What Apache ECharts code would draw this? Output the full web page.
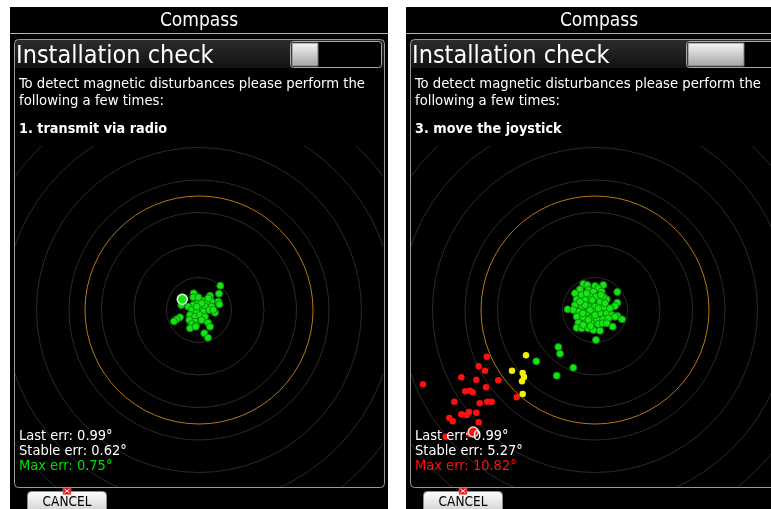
<!DOCTYPE html>
<html><head><meta charset="utf-8">
<script src="https://cdn.jsdelivr.net/npm/echarts@6/dist/echarts.min.js"></script>
<style>html,body{margin:0;padding:0;background:#fff}#c{width:771px;height:509px}</style>
</head><body><div id="c"></div>
<script>
// reference rings (pixel-equivalent deviation units) and limit circle
const ringRadii = [32.5, 65, 97.5, 130, 162.5, 195, 227.5, 260];
const limitRadius = [114];

// panel 1 : "transmit via radio"
const leftGreen = [
  [21.3,24.3],[20,16.3],[19.3,8.3],[11,14.3],[-5.3,16.7],[-5.7,12.7],[4.3,9.3],[12.3,8.7],
  [-0.7,7.7],[7.7,7.7],[-5.7,5],[-10.7,3.3],[1,3.3],[6,3.3],[12.7,3.3],[20.3,5.7],
  [-7.3,0],[-2.3,-1.7],[4.3,-1.7],[10.3,0],[16,-2.7],[-9,-5],[-4,-6.7],[1,-5],[6,-6.7],
  [-9.7,-10],[-4,-11.7],[2.7,-10],[9,-12.7],[-7.3,-14],[-3,-15.3],[-9,-18.3],[-3.3,-16.7],
  [11,-16.7],[5.3,-23.3],[9,-27.7],[-19,-7.3],[-22.3,-9.3],[-25,-11.3],[-17.7,5],
  [-0.7,12.7],[2.7,6.7],[9.3,11.7],[14.3,0],[-2.3,3.3]
];
const leftLast = [[-16.7,10.7]];

// panel 2 : "move the joystick"
const rightGreen = [
  [-11.7,26],[-7.7,25],[0,24],[8.3,25],[3.3,21.7],[-15,20.7],[-6.7,20],[-1.7,18.3],[6.7,18.3],
  [22.3,18],[-20,16.7],[-13.3,15],[-5.7,14],[1,13.3],[11.7,10.7],[-18.3,10.7],[-10,10],
  [-3.3,8.3],[5,8.3],[22.3,7.3],[20,4],[-20,5],[-13.3,3.3],[-6.7,3.3],[0,3.3],[9,2.7],
  [-27.3,0.7],[-21.7,0],[-15.7,-1.7],[-8.3,-2.7],[-1.7,-1.7],[5,-3.3],[11.7,-3.3],[16.7,-5],
  [22.3,-6],[27,-9.3],[-18.3,-6.7],[-11.7,-7.3],[-5,-8.3],[1.7,-9.3],[8.3,-9.3],[13.3,-8.3],
  [-16.7,-12.7],[-10,-13.3],[-3.3,-13.3],[3.3,-14],[7.7,-13.3],[-18.3,-17.7],[-13.3,-18.3],
  [-6.7,-18.3],[-1.7,-20],[5,-20.7],[17.7,-16.7],[1,-30],
  [-10,5],[-5,0],[3.3,1.7],[-8.3,16.7],[8.3,13.3],[-15,8.3],[0,-5],[-6.7,-10],[11.7,-13.3],
  [-12.3,-3.3],[15,1.7],[6,15],[-2.7,10],[10,6.7],[20,-6.7],[-11.7,-15],[-4.3,-16],
  [-36.7,-37],[-35,-43.7],[-58.7,-51.3],[-21.7,-57.7],[-38.3,-65.7]
];
const rightYellow = [[-69,-45.3],[-83,-60.7],[-72.3,-63],[-71,-67],[-73,-71.3],[-72.3,-84]];
const rightRed = [
  [-108.3,-46.7],[-116.3,-56.3],[-110,-60.7],[-133.7,-67.3],[-118.7,-69.7],[-96.7,-70.3],
  [-109,-77.3],[-129.7,-81.3],[-125,-80.7],[-122.3,-82.3],[-172,-74.3],[-140.7,-91.7],
  [-115.3,-93.3],[-107.7,-91.7],[-103.3,-91.7],[-78.3,-87.3],[-118.7,-102.7],[-133.7,-104.3],
  [-128.3,-105],[-126,-102],[-145.7,-108],[-142.3,-111.3],[-116.3,-112.3],[-125.7,-124],
  [-149.3,-126.7]
];
const rightLast = [[-121.7,-122]];

// texts
const titleText = 'Compass';
const headerText = 'Installation check';
const introLines = ['To detect magnetic disturbances please perform the', 'following a few times:'];
const stepTexts = ['1. transmit via radio', '3. move the joystick'];
const lastErr = ['0.99', '0.99'];
const stableErr = ['0.62', '5.27'];
const maxErr = ['0.75', '10.82'];
const maxErrColor = ['#00e000', '#ff1010'];
const knobWidth = [26, 56];

const FONT = "'DejaVu Sans Condensed', 'DejaVu Sans', sans-serif";

function grad(c1, c2) {
  return {type:'linear', x:0, y:0, x2:0, y2:1, colorStops:[{offset:0,color:c1},{offset:1,color:c2}]};
}
function txt(x, y, text, size, color, weight, align) {
  return {type:'text', x:x, y:y, z:100, silent:true,
    style:{text:text, fill:color, fontSize:size, fontFamily:FONT, fontWeight:weight||'normal',
      align:align||'left', verticalAlign:'middle', textAlign:align||'left', textVerticalAlign:'middle'}};
}
function panel(i) {
  const ox = i === 0 ? 0 : 396;
  const els = [];
  els.push({type:'rect', z:-10, shape:{x:ox+10, y:7, width:i===0?378:400, height:510}, style:{fill:'#000'}});
  els.push({type:'rect', z:-9, shape:{x:ox+10, y:33, width:i===0?378:400, height:1}, style:{fill:'#b4b4b4'}});
  els.push({type:'rect', z:-9, shape:{x:ox+15, y:40, width:i===0?369:400, height:28}, style:{fill:grad('#2c2c2c','#121212')}});
  els.push({type:'rect', z:-8, shape:{x:ox+14.5, y:39.5, width:i===0?370:400, height:448, r:4}, style:{fill:null, stroke:'#9a9a9a', lineWidth:1}});
  // toggle
  els.push({type:'rect', z:-7, shape:{x:ox+290.5, y:41.5, width:91, height:26, r:3}, style:{fill:'#000', stroke:'#a8a8a8', lineWidth:1}});
  els.push({type:'rect', z:-6, shape:{x:ox+292, y:43, width:knobWidth[i], height:23}, style:{fill:grad('#f6f6f6','#a4a4a4'), stroke:'#777', lineWidth:1}});
  // texts
  els.push(txt((i===0?199:599), 21.5, titleText, 19, '#fff', 'normal', 'center'));
  els.push(txt(ox+16, 56, headerText, 25, '#fff'));
  els.push(txt(ox+19, 84, introLines[0], 14.7, '#fff'));
  els.push(txt(ox+19, 101, introLines[1], 14.7, '#fff'));
  els.push(txt(ox+19, 129, stepTexts[i], 14.3, '#fff', 'bold'));
  els.push(txt(ox+19, 436, 'Last err: ' + lastErr[i] + '°', 14.5, '#fff'));
  els.push(txt(ox+19, 451, 'Stable err: ' + stableErr[i] + '°', 14.5, '#fff'));
  els.push(txt(ox+19, 466, 'Max err: ' + maxErr[i] + '°', 14.5, maxErrColor[i]));
  // cancel button
  const bx = i === 0 ? 27 : 423;
  els.push({type:'rect', z:50, shape:{x:bx+0.5, y:491.5, width:79, height:24, r:[4,4,0,0]}, style:{fill:grad('#ffffff','#c8c8c8'), stroke:'#8a8a8a', lineWidth:1}});
  els.push(txt(bx+40, 502, 'CANCEL', 13.5, '#000', 'normal', 'center'));
  const ix = bx + 36;
  els.push({type:'rect', z:60, shape:{x:ix, y:487.5, width:8, height:7}, style:{fill:'#e01818', stroke:'#ff8080', lineWidth:0.5}});
  els.push({type:'line', z:61, shape:{x1:ix+1.5, y1:489, x2:ix+6.5, y2:493}, style:{stroke:'#fff', lineWidth:1}});
  els.push({type:'line', z:61, shape:{x1:ix+6.5, y1:489, x2:ix+1.5, y2:493}, style:{stroke:'#fff', lineWidth:1}});
  return els;
}

function ringSeries(g, radii, color) {
  return {
    type:'custom', xAxisIndex:g, yAxisIndex:g, silent:true, z:1,
    data: radii.map(r => [r, 0]),
    renderItem: (params, api) => {
      const c = api.coord([0, 0]);
      const r = api.size([api.value(0), 0])[0];
      const cs = params.coordSys;
      return {type:'circle', shape:{cx:c[0], cy:c[1], r:r},
        style:{fill:null, stroke:color, lineWidth:1},
        clipPath:{type:'rect', shape:{x:cs.x, y:cs.y, width:cs.width, height:cs.height}}};
    }
  };
}
function dots(g, data, color, border, size, bw) {
  return {type:'scatter', xAxisIndex:g, yAxisIndex:g, data:data, symbolSize:size, z:3, silent:true,
    itemStyle:{color:color, borderColor:border, borderWidth:bw, opacity:1}};
}

const chart = echarts.init(document.getElementById('c'), null, {renderer:'canvas'});
chart.setOption({
  backgroundColor:'#ffffff',
  animation:false,
  grid:[
    {left:15, top:146, width:368, height:341},
    {left:411, top:146, width:360, height:341}
  ],
  xAxis:[
    {gridIndex:0, type:'value', min:-184, max:184, show:false},
    {gridIndex:1, type:'value', min:-184, max:176, show:false}
  ],
  yAxis:[
    {gridIndex:0, type:'value', min:-177, max:164, show:false},
    {gridIndex:1, type:'value', min:-177, max:164, show:false}
  ],
  graphic: {elements: panel(0).concat(panel(1))},
  series:[
    ringSeries(0, ringRadii, '#2a2a2a'),
    ringSeries(0, limitRadius, '#b8760e'),
    ringSeries(1, ringRadii, '#2a2a2a'),
    ringSeries(1, limitRadius, '#b8760e'),
    dots(0, leftGreen, '#14e614', '#0a8a0a', 7, 1),
    dots(0, leftLast, '#14e614', '#e0ffe0', 10, 1.5),
    dots(1, rightGreen, '#14e614', '#0a8a0a', 7, 1),
    dots(1, rightYellow, '#f0f000', '#f0f000', 6.5, 0),
    dots(1, rightRed, '#ff1010', '#ff1010', 6.5, 0),
    dots(1, rightLast, '#ff1010', '#ffd0d0', 10, 1.5)
  ]
});
</script>
</body></html>
